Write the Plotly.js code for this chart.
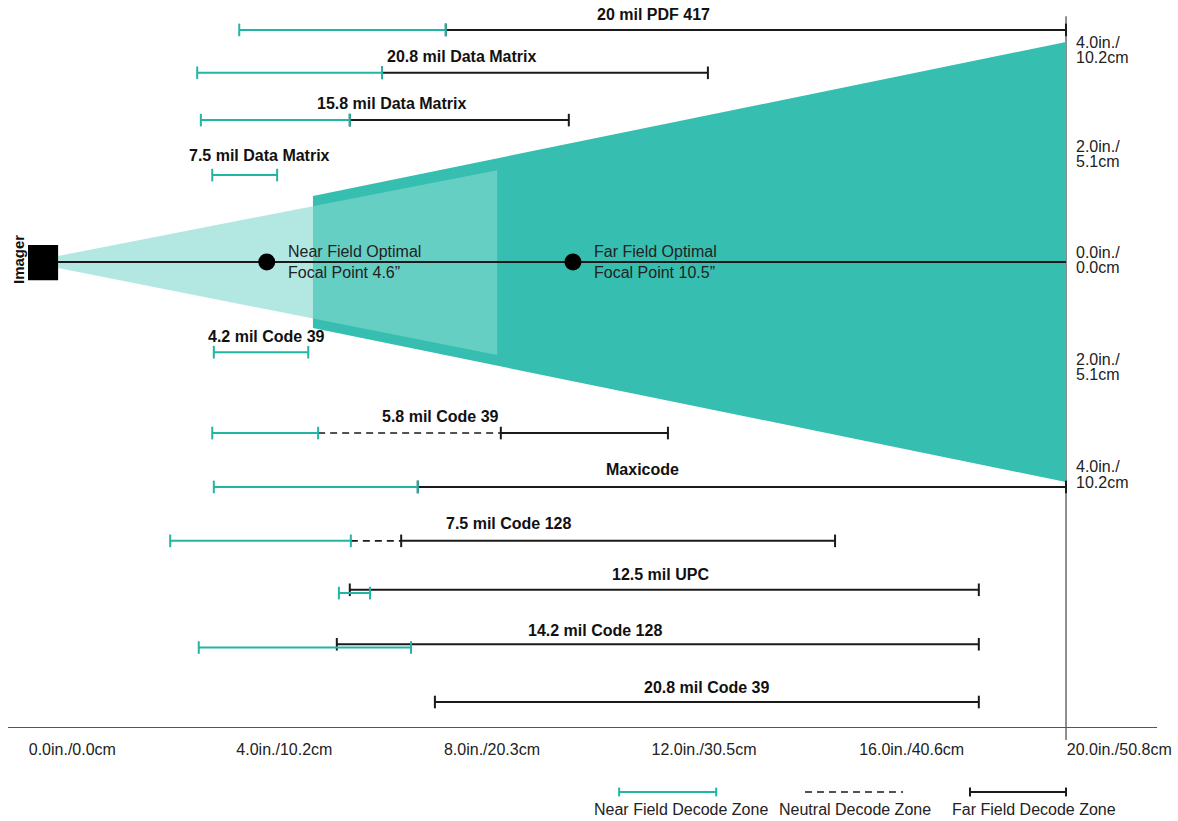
<!DOCTYPE html>
<html>
<head>
<meta charset="utf-8">
<script src="https://cdn.plot.ly/plotly-3.0.1.min.js"></script>
<style>html,body{margin:0;padding:0;background:#fff;}#chart{width:1178px;height:821px;}</style>
</head>
<body>
<div id="chart"></div>
<script>
// ---- Data (inches) ----
const codes = ["20 mil PDF 417", "20.8 mil Data Matrix", "15.8 mil Data Matrix", "7.5 mil Data Matrix",
  "4.2 mil Code 39", "5.8 mil Code 39", "Maxicode", "7.5 mil Code 128", "12.5 mil UPC",
  "14.2 mil Code 128", "20.8 mil Code 39"];
const nearZone = [[4.07, 8.05], [3.26, 6.82], [3.33, 6.20], [3.55, 4.80], [3.58, 5.40], [3.55, 5.59],
  [3.58, 7.51], [2.74, 6.22], [5.99, 6.59], [3.29, 7.38], null];
const neutralZone = [null, null, null, null, null, [5.59, 9.11], null, [6.22, 7.19], null, null, null];
const farZone = [[8.05, 20.0], [6.82, 13.10], [6.20, 10.42], null, null, [9.11, 12.33], [7.51, 20.0],
  [7.19, 15.55], [6.20, 18.32], [5.95, 18.32], [7.84, 18.32]];

// field of view (distance in., half-width in.)
const farConeX = [5.49, 20.0, 20.0, 5.49];
const farConeY = [1.2, 4.0, -4.0, -1.2];
const nearConeX = [0.58, 9.04, 9.04, 0.58];
const nearConeY = [0.11, 1.67, -1.69, -0.11];
const focalPoints = [4.6, 10.5];
const focalLabels = ["Near Field Optimal<br>Focal Point 4.6”", "Far Field Optimal<br>Focal Point 10.5”"];

const xTickVals = [0, 4, 8, 12, 16, 20];
const xTickText = ["0.0in./0.0cm", "4.0in./10.2cm", "8.0in./20.3cm", "12.0in./30.5cm", "16.0in./40.6cm", "20.0in./50.8cm"];
const yTickVals = [4, 2, 0, -2, -4];
const yTickLine1 = ["4.0in./", "2.0in./", "0.0in./", "2.0in./", "4.0in./"];
const yTickLine2 = ["10.2cm", "5.1cm", "0.0cm", "5.1cm", "10.2cm"];

// ---- Layout constants ----
const rowY = [4.22, 3.44, 2.58, 1.58, -1.64, -3.11, -4.09, -5.07, -5.96, -6.95, -8.0];
const nearOffset = [0, 0, 0, 0, 0, 0, 0, 0, -0.06, -0.06, 0];
const labelDx = [1, 9, 7, 15, 5, 0, 3, 6, 2, 6, 0];
const labelDy = [15, 16, 17, 20, 16, 17, 17, 17, 15, 14, 15];
const yLabelDown = [8, 2, -2, -5, -7.5];   // px offset of right-side label block centre
const TEAL = "#23b5a3", BLACK = "#1a1a1a";
const FONT = "Liberation Sans, Arial, Helvetica, sans-serif";

const traces = [];
traces.push({x: farConeX, y: farConeY, type: "scatter", mode: "lines", fill: "toself",
  fillcolor: "#36bfb0", line: {width: 0}, hoverinfo: "skip", showlegend: false});
traces.push({x: nearConeX, y: nearConeY, type: "scatter", mode: "lines", fill: "toself",
  fillcolor: "rgba(132,216,208,0.62)", line: {width: 0}, hoverinfo: "skip", showlegend: false});
traces.push({x: [nearConeX[0], farConeX[1]], y: [0, 0], type: "scatter", mode: "lines",
  line: {color: BLACK, width: 2}, hoverinfo: "skip", showlegend: false});
traces.push({x: focalPoints, y: focalPoints.map(() => 0), type: "scatter", mode: "markers",
  marker: {color: "#000", size: 17}, hoverinfo: "skip", showlegend: false});

const tickMarker = (c) => ({symbol: "line-ns-open", size: 9, line: {color: c, width: 2}});
const annotations = [];
codes.forEach((name, i) => {
  const y = rowY[i];
  let lo = Infinity, hi = -Infinity;
  if (farZone[i]) {
    traces.push({x: farZone[i], y: [y, y], type: "scatter", mode: "lines+markers",
      line: {color: BLACK, width: 2}, marker: tickMarker(BLACK), hoverinfo: "skip", showlegend: false});
    lo = Math.min(lo, farZone[i][0]); hi = Math.max(hi, farZone[i][1]);
  }
  if (neutralZone[i]) {
    traces.push({x: neutralZone[i], y: [y, y], type: "scatter", mode: "lines",
      line: {color: BLACK, width: 1.6, dash: "7px,5px"}, hoverinfo: "skip", showlegend: false});
  }
  if (nearZone[i]) {
    const yn = y + nearOffset[i];
    traces.push({x: nearZone[i], y: [yn, yn], type: "scatter", mode: "lines+markers",
      line: {color: TEAL, width: 2}, marker: tickMarker(TEAL), hoverinfo: "skip", showlegend: false});
    lo = Math.min(lo, nearZone[i][0]); hi = Math.max(hi, nearZone[i][1]);
  }
  annotations.push({x: (lo + hi) / 2, y: y, xref: "x", yref: "y", text: "<b>" + name + "</b>",
    showarrow: false, yshift: labelDy[i], xshift: labelDx[i], xanchor: "center", yanchor: "middle",
    font: {family: FONT, size: 16, color: "#111"}});
});

focalPoints.forEach((fp, i) => {
  annotations.push({x: fp, y: 0, xref: "x", yref: "y", text: focalLabels[i], showarrow: false,
    xanchor: "left", yanchor: "middle", xshift: 19, align: "left",
    font: {family: FONT, size: 16, color: "#222"}});
});
yTickVals.forEach((v, i) => {
  annotations.push({x: 20, y: v, xref: "x", yref: "y", text: yTickLine1[i], showarrow: false,
    xanchor: "left", yanchor: "middle", xshift: 8, yshift: -yLabelDown[i] + 7.75,
    font: {family: FONT, size: 16, color: "#222"}});
  annotations.push({x: 20, y: v, xref: "x", yref: "y", text: yTickLine2[i], showarrow: false,
    xanchor: "left", yanchor: "middle", xshift: 8, yshift: -yLabelDown[i] - 7.75,
    font: {family: FONT, size: 16, color: "#222"}});
});
annotations.push({x: 0, y: 0, xref: "x", yref: "y", text: "<b>Imager</b>", textangle: -90,
  showarrow: false, xshift: -10, yshift: 2, font: {family: FONT, size: 15, color: "#111"}});

// legend
const legY = -9.636, legTextY = -9.95;
const legend = [
  {x: [11.39, 13.26], label: "Near Field Decode Zone", color: TEAL, dash: "solid", ticks: true},
  {x: [14.97, 16.86], label: "Neutral Decode Zone", color: BLACK, dash: "7px,5px", ticks: false},
  {x: [18.15, 20.0], label: "Far Field Decode Zone", color: BLACK, dash: "solid", ticks: true}
];
const shapes = [];
shapes.push({type: "rect", xref: "x", yref: "y", x0: 0, x1: 0.58, y0: -0.33, y1: 0.31,
  fillcolor: "#000", line: {width: 0}});
shapes.push({type: "line", xref: "x", yref: "y", x0: 20, x1: 20, y0: 4.47, y1: -8.69,
  line: {color: "#444", width: 1.2}, layer: "below"});
const labelCenters = [12.58, 15.94, 19.38];
legend.forEach((l, i) => {
  shapes.push({type: "line", xref: "x", yref: "y", x0: l.x[0], x1: l.x[1], y0: legY, y1: legY,
    line: {color: l.color, width: l.dash === "solid" ? 2 : 1.6, dash: l.dash}});
  if (l.ticks) {
    l.x.forEach(xx => shapes.push({type: "line", xref: "x", yref: "y", x0: xx, x1: xx,
      y0: legY - 0.08, y1: legY + 0.08, line: {color: l.color, width: 2}}));
  }
  annotations.push({x: labelCenters[i], y: legTextY, xref: "x", yref: "y", text: l.label,
    showarrow: false, font: {family: FONT, size: 16, color: "#222"}});
});

const layout = {
  width: 1178, height: 821,
  margin: {l: 8, r: 21, t: 0, b: 0, pad: 0},
  paper_bgcolor: "#fff", plot_bgcolor: "#fff",
  showlegend: false,
  xaxis: {range: [-0.3854, 21.753], showgrid: false, zeroline: false, anchor: "free",
    position: 0.1145, showline: true, linecolor: "#555", linewidth: 1.5,
    tickvals: xTickVals, ticktext: xTickText, ticks: "", ticklabelposition: "outside right",
    ticklabelstandoff: 7, tickfont: {family: FONT, size: 16, color: "#222"}, fixedrange: true},
  yaxis: {range: [-10.1636, 4.7636], visible: false, fixedrange: true},
  shapes: shapes,
  annotations: annotations
};
Plotly.newPlot("chart", traces, layout, {displayModeBar: false, staticPlot: true});
</script>
</body>
</html>
